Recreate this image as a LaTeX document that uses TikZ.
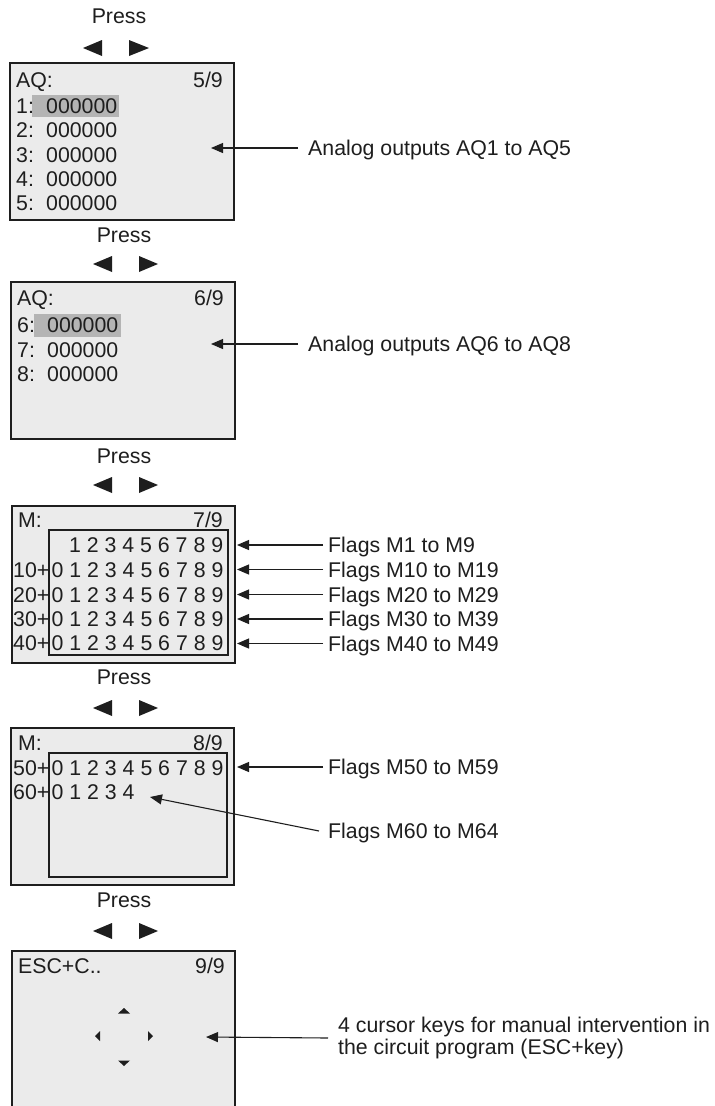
\documentclass[tikz,border=0pt]{standalone}
\usepackage{fontspec}
\setmainfont{Liberation Sans}
\usetikzlibrary{arrows.meta}
\definecolor{scr}{HTML}{EBEBEB}
\definecolor{hil}{HTML}{B4B4B4}
\definecolor{ink}{HTML}{1E1E1E}
\begin{document}
\begin{tikzpicture}[x=1pt,y=-1pt,
  txt/.style={inner sep=0pt, anchor=base west, font=\fontsize{21.3}{22}\selectfont, text=ink},
  rtxt/.style={txt, anchor=base east},
  ctxt/.style={txt, anchor=base},
  lbl/.style={txt, anchor=west, text height=15.2pt, text depth=0pt},
  screen/.style={draw=ink, line width=1.7pt, fill=scr},
  innerbox/.style={draw=ink, line width=1.3pt},
  hilite/.style={fill=hil},
  callout/.style={draw=ink, line width=1.1pt, -{Triangle[length=12pt,width=10pt]}},
  navtri/.style={fill=ink},
]
\clip (0,0) rectangle (715,1106);
\fill[white] (0,0) rectangle (715,1106);

% ---------- panel 1 ----------
\node[ctxt] (p1) at (119,23) {Press};
\fill[navtri] (83,48) -- (102,40) -- (102,56) -- cycle;
\fill[navtri] (129,40) -- (129,56) -- (149,48) -- cycle;
\draw[screen] (10,63) rectangle (234,220);
\fill[hilite] (32,95) rectangle (119,117);
\node[txt] (s1h) at (16,87) {AQ:};
\node[rtxt] (s1p) at (223,87) {5/9};
\foreach \n/\yy in {1/113,2/137.5,3/162,4/186,5/210}{
  \node[txt] (s1l\n) at (16,\yy) {\n:};
  \node[txt] (s1v\n) at (46,\yy) {000000};
}
\node[lbl] (a1) at (308,148) {Analog outputs AQ1 to AQ5};
\coordinate (a1t) at (211,148);
\draw[callout] ([xshift=-10pt]a1.west) -- (a1t);

% ---------- panel 2 ----------
\node[ctxt] (p2) at (124,242) {Press};
\fill[navtri] (93,264) -- (112,256) -- (112,272) -- cycle;
\fill[navtri] (139,256) -- (139,272) -- (158,264) -- cycle;
\draw[screen] (11,282) rectangle (235,439);
\fill[hilite] (34,314) rectangle (121,337);
\node[txt] (s2h) at (17,305) {AQ:};
\node[rtxt] (s2p) at (224,305) {6/9};
\foreach \n/\yy in {6/332,7/357,8/381}{
  \node[txt] (s2l\n) at (17,\yy) {\n:};
  \node[txt] (s2v\n) at (47,\yy) {000000};
}
\node[lbl] (a2) at (308,344) {Analog outputs AQ6 to AQ8};
\coordinate (a2t) at (211,344);
\draw[callout] ([xshift=-10pt]a2.west) -- (a2t);

% ---------- panel 3 ----------
\node[ctxt] (p3) at (124,463) {Press};
\fill[navtri] (93,485) -- (112,477) -- (112,493) -- cycle;
\fill[navtri] (139,477) -- (139,493) -- (158,485) -- cycle;
\draw[screen] (12,506) rectangle (235,663);
\draw[innerbox] (49,530) rectangle (228,655);
\node[txt] (s3h) at (18,527) {M:};
\node[rtxt] (s3p) at (223,527) {7/9};
\node[txt] (g0) at (69,552) {1 2 3 4 5 6 7 8 9};
\foreach \n/\yy in {1/577,2/602,3/626,4/650}{
  \node[rtxt] (gp\n) at (49.5,\yy) {\n0+};
  \node[txt] (g\n) at (51.5,\yy) {0 1 2 3 4 5 6 7 8 9};
}
\foreach \n/\yy/\t in {0/545/{Flags M1 to M9},1/569.5/{Flags M10 to M19},2/594.5/{Flags M20 to M29},3/619/{Flags M30 to M39},4/643.5/{Flags M40 to M49}}{
  \node[lbl] (f\n) at (328,\yy) {\t};
  \coordinate (f\n t) at (237,\yy);
  \draw[callout] ([xshift=-5pt]f\n.west) -- (f\n t);
}

% ---------- panel 4 ----------
\node[ctxt] (p4) at (124,684) {Press};
\fill[navtri] (93,708) -- (112,700) -- (112,716) -- cycle;
\fill[navtri] (139,700) -- (139,716) -- (158,708) -- cycle;
\draw[screen] (11,728) rectangle (234,885);
\draw[innerbox] (49,753) rectangle (227,877);
\node[txt] (s4h) at (18,750) {M:};
\node[rtxt] (s4p) at (223,750) {8/9};
\node[rtxt] (gp5) at (49.5,775) {50+};
\node[txt] (g5) at (51.5,775) {0 1 2 3 4 5 6 7 8 9};
\node[rtxt] (gp6) at (49.5,799) {60+};
\node[txt] (g6) at (51.5,799) {0 1 2 3 4};
\node[lbl] (f5) at (328,767) {Flags M50 to M59};
\coordinate (f5t) at (237,767);
\draw[callout] ([xshift=-5pt]f5.west) -- (f5t);
\node[lbl] (f6) at (328,831) {Flags M60 to M64};
\coordinate (f6t) at (150,797);
\draw[callout] ([xshift=-9pt]f6.west) -- (f6t);

% ---------- panel 5 ----------
\node[ctxt] (p5) at (124,907) {Press};
\fill[navtri] (93,931) -- (112,923) -- (112,939) -- cycle;
\fill[navtri] (139,923) -- (139,939) -- (158,931) -- cycle;
\draw[screen] (12,951) rectangle (235,1130);
\node[txt] (s5h) at (18,973) {ESC+C..};
\node[rtxt] (s5p) at (225,973) {9/9};
\fill[navtri] (118,1013.5) -- (124,1008) -- (130,1013.5) -- cycle;
\fill[navtri] (118,1060.5) -- (130,1060.5) -- (124,1066) -- cycle;
\fill[navtri] (95,1036) -- (100,1031) -- (100,1041) -- cycle;
\fill[navtri] (148,1031) -- (148,1041) -- (153,1036) -- cycle;
\node[txt, anchor=west, align=left] (k) at (338,1038) {4 cursor keys for manual intervention in\\the circuit program (ESC+key)};
\coordinate (kt) at (206,1037);
\draw[callout] ([xshift=-10pt]k.west) -- (kt);
\end{tikzpicture}
\end{document}
